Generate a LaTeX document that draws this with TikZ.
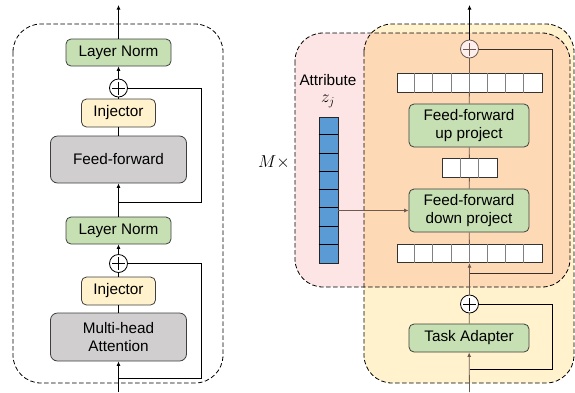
\documentclass[tikz,border=0pt]{standalone}
\usepackage{fontspec}
\setmainfont{Liberation Sans}
\usetikzlibrary{arrows.meta,calc}
\definecolor{gfill}{HTML}{C6E0B4}
\definecolor{grayfill}{HTML}{D0CECE}
\definecolor{injfill}{HTML}{FFF2CC}
\definecolor{yreg}{HTML}{FFF2CC}
\definecolor{preg}{HTML}{FDE5E5}
\definecolor{oreg}{HTML}{FDD9B5}
\definecolor{bluefill}{HTML}{5B9BD5}
\definecolor{bline}{HTML}{6E5A4E}
\definecolor{bdr}{HTML}{3F3F3F}
\definecolor{skipbrown}{HTML}{3A2E28}
\begin{document}
\begin{tikzpicture}[x=1pt,y=-1pt,
  font=\fontsize{15.3}{18}\selectfont,
  box/.style={draw=bdr, line width=0.8pt, rounded corners=5pt, inner sep=0pt, align=center},
  greenbox/.style={box, fill=gfill},
  graybox/.style={box, fill=grayfill, rounded corners=7pt},
  injbox/.style={box, fill=injfill},
  plus/.style={circle, draw, fill=white, minimum size=18pt, inner sep=0pt, line width=0.8pt,
    path picture={\draw[line width=0.8pt]
      ([xshift=-6.5pt]path picture bounding box.center) -- ([xshift=6.5pt]path picture bounding box.center)
      ([yshift=-6.5pt]path picture bounding box.center) -- ([yshift=6.5pt]path picture bounding box.center);}},
  conn/.style={line width=0.8pt},
  arr/.style={conn, -{Latex[length=4.5pt,width=4pt]}},
  region/.style={dash pattern=on 4.5pt off 2.5pt, line width=0.8pt, rounded corners=28pt},
  vec/.style={draw=black!80, fill=white, line width=0.8pt, inner sep=0pt, minimum height=18.5pt},
  lbl/.style={inner sep=0.5pt}]
\useasboundingbox (0,0) rectangle (575,392);

% ---------------- left panel ----------------
\draw[region] (13,24) rectangle (223,383);

\node[greenbox, minimum width=105pt, minimum height=27pt] (ln2) at (118.5,52.5) {Layer Norm};
\node[plus] (p2) at (118.5,88) {};
\node[injbox, minimum width=74pt, minimum height=28pt] (inj2) at (118.5,113) {Injector};
\node[graybox, minimum width=136pt, minimum height=47pt] (ff) at (118.5,159.5) {Feed-forward};
\node[greenbox, minimum width=105pt, minimum height=27pt] (ln1) at (118.5,230.5) {Layer Norm};
\node[plus] (p1) at (118.5,263.5) {};
\node[injbox, minimum width=74pt, minimum height=28pt] (inj1) at (118.5,291) {Injector};
\node[graybox, minimum width=136pt, minimum height=48pt] (mha) at (118.5,337) {Multi-head\\Attention};

\coordinate (out1) at (118.5,5);
\coordinate (in1) at (118.5,392);
\coordinate (s2) at (118.5,202);
\coordinate (k2) at (201,202);
\coordinate (s1) at (118.5,378);
\coordinate (k1) at (201,378);

\draw[arr] (ln2) -- (out1);
\draw[arr] (p2) -- (ln2);
\draw[conn] (inj2) -- (p2);
\draw[conn] (ff) -- (inj2);
\draw[arr] (ln1) -- (ff);
\draw[conn] (s2) -- (k2) |- (p2);
\draw[arr] (p1) -- (ln1);
\draw[conn] (inj1) -- (p1);
\draw[conn] (mha) -- (inj1);
\draw[arr] (in1) -- (mha);
\draw[conn] (s1) -- (k1) |- (p1);

% ---------------- right panel ----------------
\fill[yreg, rounded corners=28pt] (364,24) rectangle (574,383);
\fill[preg, rounded corners=28pt] (295,33) rectangle (570,287);
\begin{scope}
  \clip[rounded corners=28pt] (364,24) rectangle (574,383);
  \fill[oreg, rounded corners=28pt] (295,33) rectangle (570,287);
\end{scope}
\draw[region] (364,24) rectangle (574,383);
\draw[region] (295,33) rectangle (570,287);

\node[lbl] (mx) at (274,162) {\fontsize{18}{20}\selectfont$M\times$};
\node[lbl] (attr) at (328,80) {Attribute};
\node[lbl] (zj) at (328,101.5) {\fontsize{17}{20}\selectfont$z_j$};

\node[draw=black!85, fill=bluefill, line width=0.8pt, inner sep=0pt,
      minimum width=19pt, minimum height=146pt] (bl) at (328.5,190) {};
\foreach \i in {1,...,7}
  \draw[black, line width=0.8pt] ([yshift=-\i*18.25pt]bl.north west) -- ([yshift=-\i*18.25pt]bl.north east);

\node[plus, draw=bline, fill=preg!60] (pt) at (469.5,49) {};
\node[vec, minimum width=145pt] (vt) at (469.5,83) {};
\node[greenbox, minimum width=120pt, minimum height=43pt] (ffu) at (469,125.5) {Feed-forward\\up project};
\node[vec, minimum width=55pt] (v3) at (469.5,168) {};
\node[greenbox, minimum width=120pt, minimum height=43pt] (ffd) at (469,210.5) {Feed-forward\\down project};
\node[vec, minimum width=145pt] (vb) at (469.5,253.5) {};
\node[plus] (pb) at (469.5,304) {};
\node[greenbox, minimum width=120pt, minimum height=28pt] (ta) at (469,338) {Task Adapter};

\foreach \i in {1,...,7}{
  \draw[black!50, line width=0.8pt] ([xshift=\i*18.125pt]vt.north west) -- ([xshift=\i*18.125pt]vt.south west);
  \draw[black!50, line width=0.8pt] ([xshift=\i*18.125pt]vb.north west) -- ([xshift=\i*18.125pt]vb.south west);
}
\foreach \i in {1,2}
  \draw[black!50, line width=0.8pt] ([xshift=\i*18.33pt]v3.north west) -- ([xshift=\i*18.33pt]v3.south west);

\coordinate (out2) at (469.5,5);
\coordinate (in2) at (469.5,392);
\coordinate (j2) at (469.5,273);
\coordinate (c2) at (552,273);
\coordinate (j1) at (469.5,369);
\coordinate (c1) at (552,369);

\draw[arr] (pt) -- (out2);
\draw[conn, bline] (vt) -- (pt);
\draw[conn, bline] (ffu) -- (vt);
\draw[conn, bline] (v3) -- (ffu);
\draw[conn, bline] (ffd) -- (v3);
\draw[conn, bline] (vb) -- (ffd);
\draw[arr, bline] (pb) -- (vb);
\draw[conn, skipbrown] (j2) -- (c2) |- (pt);
\draw[conn, bline] (ta) -- (pb);
\draw[arr, bline] (in2) -- (ta);
\draw[conn] (j1) -- (c1) |- (pb);
\draw[arr, bline] (bl.east |- ffd.west) -- (ffd.west);
\end{tikzpicture}
\end{document}
